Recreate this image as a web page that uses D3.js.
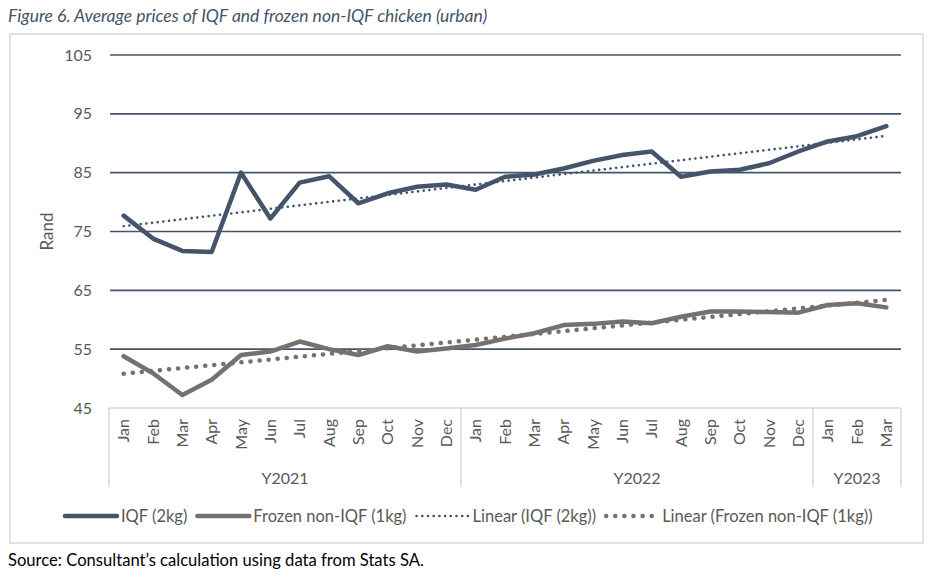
<!DOCTYPE html>
<html lang="en">
<head>
<meta charset="UTF-8">
<title>Average prices of IQF and frozen non-IQF chicken</title>
<script src="https://d3js.org/d3.v7.min.js"></script>
<style>
  body { margin: 0; background: #fff; }
  svg { display: block; font-family: Lato, "Open Sans", sans-serif; }
</style>
</head>
<body>
<div id="chart"></div>
<script>
// data
const years = ["Y2021", "Y2022", "Y2023"];
const months = ["Jan","Feb","Mar","Apr","May","Jun","Jul","Aug","Sep","Oct","Nov","Dec",
                "Jan","Feb","Mar","Apr","May","Jun","Jul","Aug","Sep","Oct","Nov","Dec",
                "Jan","Feb","Mar"];
const monthYear = [0,0,0,0,0,0,0,0,0,0,0,0, 1,1,1,1,1,1,1,1,1,1,1,1, 2,2,2];
const iqf = [77.7,73.8,71.7,71.5,85.0,77.2,83.3,84.4,79.8,81.5,82.6,83.0,
             82.1,84.3,84.7,85.7,87.0,88.0,88.6,84.3,85.2,85.5,86.6,88.6,
             90.3,91.2,92.9];
const frozen = [53.8,50.9,47.2,49.8,54.0,54.6,56.3,55.0,54.0,55.5,54.6,55.1,
                55.7,56.8,57.7,59.1,59.3,59.7,59.4,60.5,61.4,61.4,61.3,61.2,
                62.5,62.8,62.1];
const yTicks = [45, 55, 65, 75, 85, 95, 105];

const W = 938, H = 580;
const plotL = 109, plotR = 901, plotT = 55, plotB = 408;

const svg = d3.select("#chart").append("svg")
    .attr("width", W).attr("height", H);

// title + frame
svg.append("text").attr("x", 8).attr("y", 22)
    .attr("font-size", 17.5).attr("font-style", "italic").attr("fill", "#44546a")
    .text("Figure 6. Average prices of IQF and frozen non-IQF chicken (urban)");
svg.append("rect").attr("x", 10).attr("y", 34).attr("width", 913).attr("height", 509)
    .attr("fill", "none").attr("stroke", "#d9d9d9").attr("stroke-width", 1.5);

const idx = d3.range(months.length);
const x = d3.scaleBand().domain(idx).range([plotL, plotR]);
const y = d3.scaleLinear().domain([45, 105]).range([plotB, plotT]);
const cx = i => x(i) + x.bandwidth() / 2;

// gridlines
svg.append("g").selectAll("line").data(yTicks.filter(t => t > 45)).join("line")
    .attr("x1", plotL + 1).attr("x2", plotR)
    .attr("y1", d => y(d)).attr("y2", d => y(d))
    .attr("stroke", "#44546a").attr("stroke-width", 1.6);

// y tick labels
svg.append("g").selectAll("text").data(yTicks).join("text")
    .attr("x", 92).attr("y", d => y(d)).attr("dy", "0.35em")
    .attr("text-anchor", "end").attr("font-size", 16).attr("fill", "#595959")
    .text(d => d);
svg.append("text").attr("transform", `translate(53,${y(75)}) rotate(-90)`)
    .attr("text-anchor", "middle").attr("font-size", 17).attr("fill", "#595959")
    .text("Rand");

// category table (months + years)
const tbl = svg.append("g").attr("stroke", "#d9d9d9").attr("stroke-width", 1.5);
const tblBottom = 487;
tbl.append("line").attr("x1", plotL).attr("x2", plotR).attr("y1", plotB).attr("y2", plotB);
const bounds = [0];
years.forEach((yr, k) => bounds.push(monthYear.lastIndexOf(k) + 1));
bounds.forEach(b => {
  const bx = b < months.length ? x(b) : plotR;
  tbl.append("line").attr("x1", bx).attr("x2", bx).attr("y1", plotB).attr("y2", tblBottom);
});

svg.append("g").selectAll("text").data(idx).join("text")
    .attr("transform", i => `translate(${cx(i)},419) rotate(-90)`)
    .attr("text-anchor", "end").attr("dy", "0.35em")
    .attr("font-size", 16).attr("fill", "#595959")
    .text(i => months[i]);

svg.append("g").selectAll("text").data(years).join("text")
    .attr("x", (d, k) => {
      const a = x(bounds[k]);
      const b = bounds[k + 1] < months.length ? x(bounds[k + 1]) : plotR;
      return (a + b) / 2;
    })
    .attr("y", 478).attr("dy", "0.35em").attr("text-anchor", "middle")
    .attr("font-size", 16).attr("fill", "#595959")
    .text(d => d);

// linear trend (least squares, like the spreadsheet "Linear" trendline)
function linFit(vals) {
  const mx = d3.mean(idx), my = d3.mean(vals);
  const b = d3.sum(idx, i => (i - mx) * (vals[i] - my)) / d3.sum(idx, i => (i - mx) ** 2);
  return idx.map(i => my + b * (i - mx));
}

const line = d3.line().x((d, i) => cx(i)).y(d => y(d));

const series = [
  { vals: linFit(frozen), color: "#767171", width: 4.5, dash: "0.1,9", cap: "round" },
  { vals: linFit(iqf), color: "#44546a", width: 2.6, dash: "0.1,5.6", cap: "round" },
  { vals: frozen, color: "#767171", width: 4.5, dash: null, cap: "round" },
  { vals: iqf, color: "#44546a", width: 4.5, dash: null, cap: "round" }
];
svg.append("g").selectAll("path").data(series).join("path")
    .attr("d", d => line(d.vals))
    .attr("fill", "none")
    .attr("stroke", d => d.color)
    .attr("stroke-width", d => d.width)
    .attr("stroke-dasharray", d => d.dash)
    .attr("stroke-linecap", d => d.cap)
    .attr("stroke-linejoin", "round");

// legend
const legendItems = [
  { label: "IQF (2kg)", color: "#44546a", width: 4.5, dash: null },
  { label: "Frozen non-IQF (1kg)", color: "#767171", width: 4.5, dash: null },
  { label: "Linear (IQF (2kg))", color: "#44546a", width: 2.6, dash: "0.1,5.6" },
  { label: "Linear (Frozen non-IQF (1kg))", color: "#767171", width: 4.5, dash: "0.1,9" }
];
const lg = svg.append("g");
let lx = 65;
const ly = 516;
legendItems.forEach(it => {
  lg.append("line").attr("x1", lx).attr("x2", lx + 52).attr("y1", ly).attr("y2", ly)
    .attr("stroke", it.color).attr("stroke-width", it.width)
    .attr("stroke-dasharray", it.dash).attr("stroke-linecap", "round");
  const t = lg.append("text").attr("x", lx + 56).attr("y", ly).attr("dy", "0.35em")
    .attr("font-size", 16.5).attr("fill", "#595959").text(it.label);
  lx += 56 + t.node().getComputedTextLength() + 10;
});

// source
svg.append("text").attr("x", 8).attr("y", 566)
    .attr("font-size", 16.6).attr("fill", "#000")
    .text("Source: Consultant\u2019s calculation using data from Stats SA.");
</script>
</body>
</html>
